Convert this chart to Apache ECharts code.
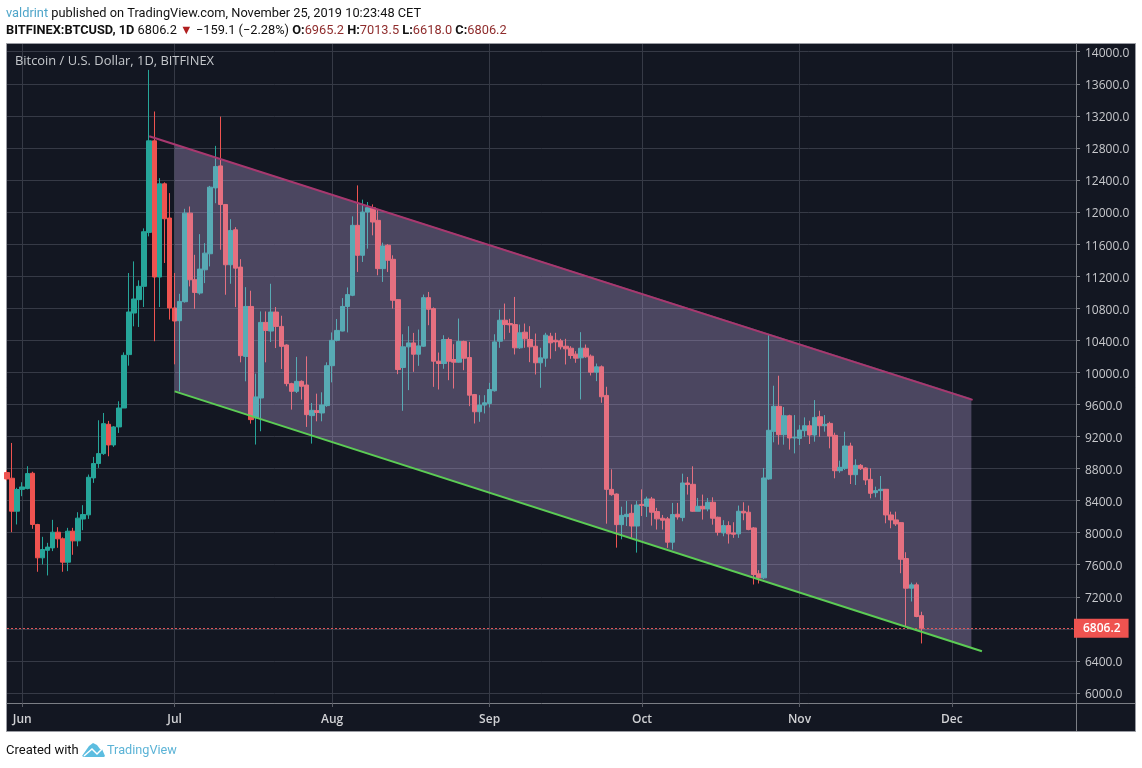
<!DOCTYPE html>
<html>
<head>
<meta charset="utf-8">
<style>html,body{margin:0;padding:0;background:#fff}#c{width:1142px;height:768px}</style>
<script src="https://cdn.jsdelivr.net/npm/echarts@6/dist/echarts.min.js"></script>
</head>
<body>
<div id="c"></div>
<script>
const dates = [
'2019-05-29','2019-05-30','2019-05-31',
'2019-06-01','2019-06-02','2019-06-03','2019-06-04','2019-06-05','2019-06-06','2019-06-07','2019-06-08','2019-06-09','2019-06-10',
'2019-06-11','2019-06-12','2019-06-13','2019-06-14','2019-06-15','2019-06-16','2019-06-17','2019-06-18','2019-06-19','2019-06-20',
'2019-06-21','2019-06-22','2019-06-23','2019-06-24','2019-06-25','2019-06-26','2019-06-27','2019-06-28','2019-06-29','2019-06-30',
'2019-07-01','2019-07-02','2019-07-03','2019-07-04','2019-07-05','2019-07-06','2019-07-07','2019-07-08','2019-07-09','2019-07-10',
'2019-07-11','2019-07-12','2019-07-13','2019-07-14','2019-07-15','2019-07-16','2019-07-17','2019-07-18','2019-07-19','2019-07-20',
'2019-07-21','2019-07-22','2019-07-23','2019-07-24','2019-07-25','2019-07-26','2019-07-27','2019-07-28','2019-07-29','2019-07-30','2019-07-31',
'2019-08-01','2019-08-02','2019-08-03','2019-08-04','2019-08-05','2019-08-06','2019-08-07','2019-08-08','2019-08-09','2019-08-10',
'2019-08-11','2019-08-12','2019-08-13','2019-08-14','2019-08-15','2019-08-16','2019-08-17','2019-08-18','2019-08-19','2019-08-20',
'2019-08-21','2019-08-22','2019-08-23','2019-08-24','2019-08-25','2019-08-26','2019-08-27','2019-08-28','2019-08-29','2019-08-30','2019-08-31',
'2019-09-01','2019-09-02','2019-09-03','2019-09-04','2019-09-05','2019-09-06','2019-09-07','2019-09-08','2019-09-09','2019-09-10',
'2019-09-11','2019-09-12','2019-09-13','2019-09-14','2019-09-15','2019-09-16','2019-09-17','2019-09-18','2019-09-19','2019-09-20',
'2019-09-21','2019-09-22','2019-09-23','2019-09-24','2019-09-25','2019-09-26','2019-09-27','2019-09-28','2019-09-29','2019-09-30',
'2019-10-01','2019-10-02','2019-10-03','2019-10-04','2019-10-05','2019-10-06','2019-10-07','2019-10-08','2019-10-09','2019-10-10',
'2019-10-11','2019-10-12','2019-10-13','2019-10-14','2019-10-15','2019-10-16','2019-10-17','2019-10-18','2019-10-19','2019-10-20',
'2019-10-21','2019-10-22','2019-10-23','2019-10-24','2019-10-25','2019-10-26','2019-10-27','2019-10-28','2019-10-29','2019-10-30','2019-10-31',
'2019-11-01','2019-11-02','2019-11-03','2019-11-04','2019-11-05','2019-11-06','2019-11-07','2019-11-08','2019-11-09','2019-11-10',
'2019-11-11','2019-11-12','2019-11-13','2019-11-14','2019-11-15','2019-11-16','2019-11-17','2019-11-18','2019-11-19','2019-11-20',
'2019-11-21','2019-11-22','2019-11-23','2019-11-24','2019-11-25'
];
// each candle: open, close, low, high
const candlesMay = [[8750,8670,8650,8780],[8679,8268,8006,9119],[8268,8538,8102,8560]];
const candlesJun = [
[8540,8570,8455,8629],[8550,8737,8540,8829],[8741,8102,8048,8760],[8102,7686,7512,8110],[7686,7790,7603,7948],
[7780,7820,7466,7873],[7810,8006,7770,8160],[8006,7923,7811,8068],[7923,7632,7512,7940],[7632,8018,7520,8060],
[8018,7898,7724,8060],[7898,8181,7830,8255],[8170,8226,8031,8343],[8222,8691,8172,8725],[8683,8862,8621,8945],
[8862,8986,8808,9402],[8986,9360,8970,9493],[9352,9094,8953,9394],[9094,9319,9070,9330],[9319,9555,9244,9639],
[9555,10212,9555,10249],[10221,10753,10083,11239],[10740,10915,10574,11384],[10907,11073,10566,11148],[11073,11754,10815,11796],
[11746,12888,11696,13773],[12888,11189,10388,13254],[11189,12352,10815,12423],[12352,11916,11364,12370],[11925,10803,10658,12236]
];
const candlesJul = [
[10803,10640,10100,11239],[10644,10885,9763,10980],[10881,11986,10870,12040],[11986,11155,11072,12069],[11155,10997,10793,11466],
[10989,11288,10968,11724],[11279,11487,11113,11612],[11479,12310,11321,12326],[12301,12567,12110,12825],[12575,12094,11529,13190],
[12094,11342,10968,12100],[11342,11770,11105,11911],[11778,11300,10814,11811],[11313,10208,10125,11412],[10199,10822,9888,11063],
[10822,9410,9360,11018],[9431,9693,9099,9983],[9680,10623,9265,10760],[10623,10523,10125,10760],[10515,10752,10378,11105],
[10752,10573,10303,10814],[10573,10324,10042,10706],[10341,9859,9826,10350],[9859,9763,9535,9870],[9763,9888,9742,10191],
[9888,9826,9660,9900],[9842,9472,9319,10199],[9460,9526,9111,9618],[9522,9500,9389,9734],[9493,9593,9389,9751],[9585,10083,9570,10125]
];
const candlesAug = [
[10083,10399,9875,10498],[10399,10523,10386,10665],[10515,10822,10511,10926],[10822,10970,10498,11059],[10961,11834,10950,11946],
[11834,11460,11252,12332],[11460,12000,11377,12154],[12000,12054,11543,12125],[12054,11875,11709,12095],[11896,11294,11211,12029],
[11294,11576,11128,11618],[11585,11398,11252,11600],[11410,10899,10795,11460],[10907,10035,9977,10915],[10060,10318,9520,10475],
[10318,10367,9778,10575],[10367,10226,10006,10492],[10226,10330,10081,10534],[10326,10932,10318,10970],[10932,10787,10588,11003],
[10795,10139,9819,10810],[10139,10110,9786,10247],[10110,10409,10044,10463],[10409,10139,9902,10434],[10160,10127,9798,10351],
[10127,10384,10120,10671],[10384,10176,10027,10395],[10185,9715,9578,10380],[9723,9508,9362,9730],[9508,9591,9383,9715],[9591,9620,9487,9715]
];
const candlesSep = [
[9612,9786,9562,9869],[9770,10380,9760,10475],[10389,10650,10306,10783],[10650,10596,10410,10858],[10609,10592,10493,10667],
[10596,10306,10223,10941],[10306,10493,10293,10596],[10501,10418,10306,10609],[10410,10318,10127,10576],[10326,10119,9973,10484],
[10119,10181,9807,10306],[10177,10464,10069,10493],[10451,10368,10169,10493],[10401,10380,10264,10493],[10393,10318,10285,10418],
[10326,10293,10098,10418],[10301,10210,10169,10326],[10227,10177,10119,10264],[10181,10301,9662,10501],[10301,10194,10181,10347],
[10202,10002,9961,10223],[10002,10069,9890,10110],[10069,9695,9620,10086],[9712,8540,8112,9820],[8540,8474,8460,8790],
[8482,8100,7813,8490],[8100,8216,7917,8324],[8200,8229,8083,8395],[8241,8083,7938,8353],[8083,8345,7751,8395]
];
const candlesOct = [
[8353,8340,8208,8540],[8329,8420,8196,8449],[8420,8255,8088,8446],[8263,8172,8039,8309],[8180,8155,8039,8221],
[8172,7881,7810,8196],[7881,8226,7789,8371],[8230,8196,8163,8371],[8188,8620,8142,8736],[8620,8600,8475,8695],
[8603,8267,8260,8828],[8267,8329,8267,8433],[8329,8296,8163,8475],[8296,8379,8267,8433],[8379,8180,8100,8441],
[8192,8005,7964,8200],[7997,8088,7955,8155],[8088,7985,7864,8142],[7997,7980,7935,8130],[7985,8267,7935,8338],
[8267,8246,8155,8379],[8255,8039,8030,8338],[8059,7478,7353,8070],[7486,7436,7366,7532],[7436,8682,7420,8807],
[8670,9277,8660,10469],[9264,9576,9127,9833],[9576,9222,9098,9958],[9222,9459,9098,9567],[9459,9181,9036,9471],[9181,9190,8989,9467]
];
const candlesNov = [
[9176,9280,9093,9342],[9272,9334,9197,9438],[9334,9218,9106,9396],[9218,9438,9135,9654],[9446,9334,9197,9521],
[9334,9351,9260,9467],[9363,9205,9052,9384],[9214,8773,8678,9247],[8773,8815,8748,8898],[8802,9081,8782,9259],
[9081,8723,8607,9122],[8723,8840,8595,8915],[8840,8798,8782,8856],[8807,8657,8595,8815],[8665,8491,8429,8802],
[8499,8524,8441,8574],[8524,8541,8408,8707],[8541,8221,8117,8545],[8221,8159,8055,8262],[8159,8109,8084,8262],
[8125,7668,7494,8130],[7677,7307,6829,7756],[7307,7349,7141,7377],[7349,6954,6945,7377],[6965,6806.2,6618,7013.5]
];
const priceTicks = [6000,6400,6800,7200,7600,8000,8400,8800,9200,9600,10000,10400,10800,11200,11600,12000,12400,12800,13200,13600,14000];
const monthTicks = ['2019-06-01','2019-07-01','2019-08-01','2019-09-01','2019-10-01','2019-11-01','2019-12-01'];
const monthNames = {5:'Jun',6:'Jul',7:'Aug',8:'Sep',9:'Oct',10:'Nov',11:'Dec'};
const lastPrice = 6806.2;
const upperLine = [['2019-06-26T00:00',12945],['2019-12-05T02:00',9657]];
const lowerLine = [['2019-07-01T00:00',9763],['2019-12-06T22:00',6520]];
const channelFill = [['2019-07-01T00:00',12847],['2019-12-04T20:00',9676],['2019-12-04T20:00',6562],['2019-07-01T00:00',9763]];

const ts = s => Date.parse((s.length === 10 ? s + 'T00:00' : s) + ':00Z');
const withTs = list => list.map(p => [ts(p[0]), p[1]]);
const allCandles = [].concat(candlesMay, candlesJun, candlesJul, candlesAug, candlesSep, candlesOct, candlesNov);
const candleData = dates.map((d, i) => [ts(d)].concat(allCandles[i]));

const UI = '"Open Sans","Noto Sans",sans-serif';
const HEAD = 'Roboto,"Noto Sans",sans-serif';
const chart = echarts.init(document.getElementById('c'), null, {renderer: 'canvas'});
chart.setOption({
  animation: false,
  backgroundColor: '#ffffff',
  grid: {left: 7, top: 44, width: 1069, height: 659, show: false},
  xAxis: {
    type: 'value',
    min: ts('2019-05-29'),
    max: ts('2019-12-25T10:20'),
    axisLine: {show: true, onZero: false, lineStyle: {color: '#7b7e85', width: 1}},
    axisTick: {show: true, length: 4, lineStyle: {color: '#5a5d66'}, customValues: monthTicks.map(ts)},
    splitLine: {show: true, lineStyle: {color: '#363a46', width: 1}},
    axisLabel: {
      customValues: monthTicks.map(ts),
      formatter: v => monthNames[new Date(v).getUTCMonth()],
      color: '#d0d1d4', fontFamily: UI, fontSize: 12, fontWeight: 600, margin: 11, hideOverlap: false
    }
  },
  yAxis: {
    type: 'value',
    position: 'right',
    min: 5875,
    max: 14096,
    axisLine: {show: true, lineStyle: {color: '#7b7e85', width: 1}},
    axisTick: {show: true, length: 4, lineStyle: {color: '#7b7e85'}, customValues: priceTicks},
    splitLine: {show: true, lineStyle: {color: '#363a46', width: 1}},
    axisLabel: {
      customValues: priceTicks,
      formatter: v => '{v|' + v.toFixed(1) + '}',
      margin: 9,
      rich: {v: {color: '#c8c9cd', fontFamily: UI, fontSize: 12, padding: [4, 0, 0, 0]}}
    }
  },
  series: [
    {
      type: 'candlestick',
      data: candleData,
      barWidth: 5,
      z: 2,
      itemStyle: {color: '#26a69a', color0: '#ef5350', borderColor: '#26a69a', borderColor0: '#ef5350', borderWidth: 1},
      markLine: {
        silent: true, symbol: 'none', animation: false,
        lineStyle: {color: '#e0565a', type: [2, 2], width: 1, opacity: 1},
        label: {
          show: true, position: 'end', distance: -2, formatter: lastPrice.toFixed(1),
          color: '#ffffff', backgroundColor: '#ef5350', fontFamily: UI, fontSize: 12, fontWeight: 600,
          padding: [4, 8, 3, 9]
        },
        data: [{yAxis: lastPrice}]
      }
    },
    {
      type: 'custom',
      z: 4,
      silent: true,
      clip: false,
      data: withTs(channelFill),
      renderItem: (params, api) => params.dataIndex !== 0 ? null : {
        type: 'polygon',
        shape: {points: withTs(channelFill).map(p => api.coord(p))},
        style: {fill: 'rgba(206,180,241,0.30)'}
      }
    },
    {
      type: 'line', z: 5, silent: true, showSymbol: false, data: withTs(upperLine),
      lineStyle: {color: '#a8386f', width: 2}
    },
    {
      type: 'line', z: 5, silent: true, showSymbol: false, data: withTs(lowerLine),
      lineStyle: {color: '#5ccc55', width: 2}
    }
  ],
  graphic: [
    {type: 'rect', z: -10, silent: true, shape: {x: 6.5, y: 43.5, width: 1129, height: 688},
      style: {fill: '#131722', stroke: '#9a9ca3', lineWidth: 1}},
    {type: 'line', z: 1, silent: true, shape: {x1: 1076, y1: 703.5, x2: 1135, y2: 703.5}, style: {stroke: '#7b7e85', lineWidth: 1}},
    {type: 'line', z: 1, silent: true, shape: {x1: 1076.5, y1: 703, x2: 1076.5, y2: 731}, style: {stroke: '#7b7e85', lineWidth: 1}},
    {type: 'text', z: 20, silent: true, x: 15, y: 55, style: {
      text: 'Bitcoin / U.S. Dollar, 1D, BITFINEX', fill: '#c5c8cc', font: '12.9px ' + UI}},
    {type: 'text', z: 20, silent: true, x: 6, y: 7, style: {
      text: '{a|valdrint} published on TradingView.com, November 25, 2019 10:23:48 CET',
      fill: '#111111', font: '12.8px ' + HEAD,
      rich: {a: {fill: '#4ea5c9', font: '12.8px ' + HEAD}}}},
    {type: 'text', z: 20, silent: true, x: 6, y: 24, style: {
      text: '{b|BITFINEX:BTCUSD, 1D} 6806.2 {t|▼} −159.1 (−2.28%) {b|O:}{r|6965.2} {b|H:}{r|7013.5} {b|L:}{r|6618.0} {b|C:}{r|6806.2}',
      fill: '#111111', font: '12.8px ' + HEAD,
      rich: {
        b: {fill: '#111111', font: '700 12.8px ' + HEAD},
        r: {fill: '#8f2d2d', font: '12.8px ' + HEAD},
        t: {fill: '#b01f1f', font: '12.8px ' + HEAD}
      }}},
    {type: 'text', z: 20, silent: true, x: 6, y: 744, style: {text: 'Created with', fill: '#111111', font: '13px ' + HEAD}},
    {type: 'text', z: 20, silent: true, x: 107, y: 744, style: {text: 'TradingView', fill: '#5bb3d6', font: '12.7px ' + HEAD}},
    {type: 'polygon', z: 20, silent: true, shape: {points: [[82,756],[89,746],[93,743],[97,745],[100,749],[102,749],[105,756],[104,757],[84,757]]}, style: {fill: '#5cbde0'}},
    {type: 'polyline', z: 21, silent: true, shape: {points: [[84,756],[92,749],[97,754],[102,749]]}, style: {stroke: '#ffffff', fill: 'none', lineWidth: 1.5}}
  ]
});
</script>
</body>
</html>
